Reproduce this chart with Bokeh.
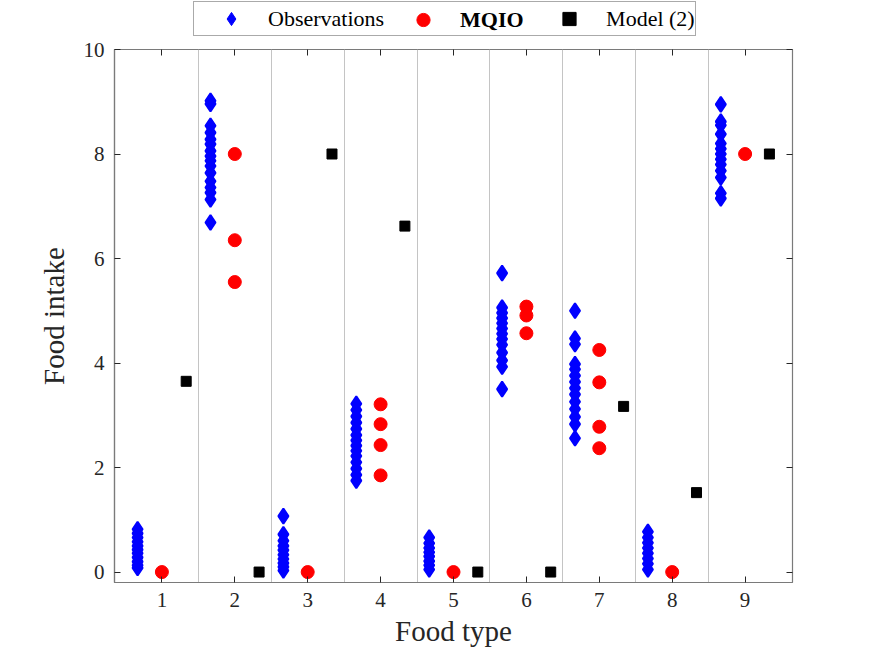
import numpy as np
from bokeh.plotting import figure
from bokeh.layouts import column
from bokeh.models import (Legend, LegendItem, LinearAxis, FixedTicker, Range1d,
                          CustomJSTickFormatter)
from bokeh.core.properties import value
from bokeh.embed import file_html
from bokeh.resources import INLINE

# ---------------- data ----------------
food_types = [1, 2, 3, 4, 5, 6, 7, 8, 9]

obs_1 = [0.82, 0.74, 0.66, 0.58, 0.50, 0.43, 0.36, 0.28, 0.20, 0.13, 0.08]
obs_2 = [9.02, 8.96, 8.54, 8.41, 8.28, 8.19, 8.06, 7.96, 7.87, 7.77, 7.64, 7.48, 7.36, 7.26, 7.13, 6.69]
obs_3 = [1.07, 0.72, 0.60, 0.50, 0.42, 0.33, 0.25, 0.17, 0.10, 0.03]
obs_4 = [3.22, 3.10, 2.98, 2.86, 2.74, 2.62, 2.52, 2.42, 2.32, 2.22, 2.10, 1.98, 1.86, 1.75]
obs_5 = [0.66, 0.55, 0.46, 0.38, 0.30, 0.21, 0.13, 0.05]
obs_6 = [5.72, 5.06, 4.96, 4.86, 4.76, 4.66, 4.56, 4.46, 4.35, 4.20, 4.05, 3.93, 3.50]
obs_7 = [5.00, 4.47, 4.36, 3.98, 3.88, 3.76, 3.64, 3.52, 3.40, 3.26, 3.12, 2.97, 2.83, 2.56]
obs_8 = [0.77, 0.66, 0.56, 0.46, 0.36, 0.26, 0.16, 0.05]
obs_9 = [8.95, 8.62, 8.55, 8.38, 8.20, 8.10, 8.00, 7.90, 7.80, 7.68, 7.55, 7.25, 7.15]
observations = [obs_1, obs_2, obs_3, obs_4, obs_5, obs_6, obs_7, obs_8, obs_9]

mqio_1 = [0.0]
mqio_2 = [8.0, 6.35, 5.55]
mqio_3 = [0.0]
mqio_4 = [3.21, 2.83, 2.43, 1.85]
mqio_5 = [0.0]
mqio_6 = [5.08, 4.91, 4.57]
mqio_7 = [4.25, 3.63, 2.78, 2.37]
mqio_8 = [0.0]
mqio_9 = [8.0]
mqio = [mqio_1, mqio_2, mqio_3, mqio_4, mqio_5, mqio_6, mqio_7, mqio_8, mqio_9]

model_2 = [3.65, 0.0, 8.0, 6.62, 0.0, 0.0, 3.17, 1.52, 8.0]

x_ticks = [1, 2, 3, 4, 5, 6, 7, 8, 9]
y_ticks = [0, 2, 4, 6, 8, 10]
separators = [1.5, 2.5, 3.5, 4.5, 5.5, 6.5, 7.5, 8.5]

# ---------------- derived positions ----------------
OFF = 1.0 / 3.0
obs_x = np.concatenate([np.full(len(v), t - OFF) for t, v in zip(food_types, observations)])
obs_y = np.concatenate([np.asarray(v, float) for v in observations])
mq_x = np.concatenate([np.full(len(v), float(t)) for t, v in zip(food_types, mqio)])
mq_y = np.concatenate([np.asarray(v, float) for v in mqio])
mod_x = np.asarray(food_types, float) + OFF
mod_y = np.asarray(model_2, float)

SERIF = "Liberation Serif"
AX_COL = "#7a7a7a"
TXT_COL = "#262626"
BLUE, RED, BLACK = "#0000ff", "#ff0000", "#000000"

LEG_H = 36
p = figure(width=875, height=657 - LEG_H, x_range=Range1d(0.35, 9.65), y_range=Range1d(-0.2, 10),
           output_backend="svg", toolbar_location=None,
           min_border_left=114, min_border_right=83, min_border_top=49 - LEG_H,
           min_border_bottom=75)
p.background_fill_color = "white"
p.border_fill_color = "white"
p.outline_line_color = AX_COL
p.outline_line_width = 1.2

# grid: vertical separators only
p.xgrid.ticker = FixedTicker(ticks=separators)
p.xgrid.grid_line_color = "#c4c4c4"
p.xgrid.grid_line_width = 1
p.ygrid.visible = False

for ax, ticks in ((p.xaxis[0], x_ticks), (p.yaxis[0], y_ticks)):
    ax.ticker = FixedTicker(ticks=ticks)
    ax.axis_line_color = AX_COL
    ax.axis_line_width = 1.2
    ax.major_tick_in = 6
    ax.major_tick_out = 0
    ax.major_tick_line_color = TXT_COL
    ax.minor_tick_line_color = None
    ax.major_label_text_font = SERIF
    ax.major_label_text_font_size = "21px"
    ax.major_label_text_color = TXT_COL
    ax.axis_label_text_font = SERIF
    ax.axis_label_text_font_size = "29px"
    ax.axis_label_text_font_style = "normal"
    ax.axis_label_text_color = TXT_COL
    ax.major_label_standoff = 10

p.xaxis.axis_label = "Food type"
p.yaxis.axis_label = "Food intake"
p.xaxis.axis_label_standoff = 5
p.yaxis.axis_label_standoff = 11

blank = CustomJSTickFormatter(code="return ''")
for side, ticks in (("right", y_ticks), ("above", x_ticks)):
    a = LinearAxis(ticker=FixedTicker(ticks=ticks), formatter=blank,
                   axis_line_color=None, major_tick_in=6, major_tick_out=0,
                   major_label_standoff=0,
                   major_tick_line_color=TXT_COL, minor_tick_line_color=None)
    p.add_layout(a, side)

p.scatter(obs_x, obs_y, marker="diamond", size=15, line_width=2,
          fill_color=BLUE, line_color=BLUE)
p.scatter(mq_x, mq_y, marker="circle", size=13,
          fill_color=RED, line_color=RED)
p.scatter(mod_x, mod_y, marker="square", size=10,
          fill_color=BLACK, line_color=BLACK)

# ---------------- legend strip above the axes ----------------
lg = figure(width=875, height=LEG_H, x_range=Range1d(0, 1), y_range=Range1d(0, 1),
            output_backend="svg", toolbar_location=None, min_border=0,
            x_axis_type=None, y_axis_type=None, outline_line_color=None)
lg.grid.visible = False
lg.background_fill_color = "white"
lg.border_fill_color = "white"

nan = [float("nan")]
k_obs = lg.scatter(nan, nan, marker="diamond", fill_color=BLUE, line_color=BLUE)
k_mq = lg.scatter(nan, nan, marker="circle", fill_color=RED, line_color=RED)
k_mod = lg.scatter(nan, nan, marker="square", fill_color=BLACK, line_color=BLACK)
k_gap = lg.scatter(nan, nan, marker="circle", fill_alpha=0, line_alpha=0)

common = dict(orientation="horizontal", padding=0, spacing=5, glyph_width=74,
              glyph_height=33, label_standoff=0, label_width=64, label_text_font=SERIF,
              label_text_font_size="22px", label_text_color="#000000", margin=0)

legend_main = Legend(items=[
    LegendItem(label=value("Observations"), renderers=[k_obs]),
    LegendItem(label=value(" "), renderers=[k_gap]),
    LegendItem(label=value("Model (2)"), renderers=[k_mod]),
], location=(79, 0), border_line_color="#555555", border_line_width=1,
   background_fill_color="white", background_fill_alpha=1, **common)

legend_bold = Legend(items=[
    LegendItem(label=value("MQIO"), renderers=[k_mq]),
], location=(272, 0), border_line_color=None, background_fill_alpha=0,
   label_text_font_style="bold", **common)

lg.add_layout(legend_main, "center")
lg.add_layout(legend_bold, "center")

layout = column(lg, p, spacing=0)
open("out.html", "w").write(file_html(layout, INLINE))
